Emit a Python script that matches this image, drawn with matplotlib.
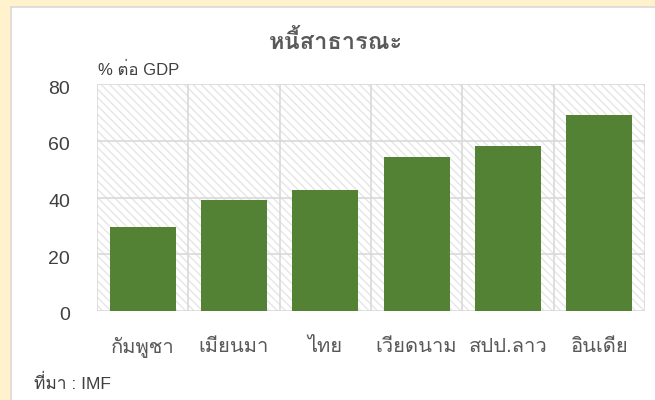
import matplotlib
matplotlib.use("Agg")
import matplotlib.pyplot as plt
from matplotlib.patches import Rectangle
from matplotlib.transforms import ScaledTranslation

categories = ["กัมพูชา", "เมียนมา", "ไทย", "เวียดนาม", "สปป.ลาว", "อินเดีย"]
values = [29.6, 39.1, 42.6, 54.3, 58.1, 69.1]
yticks = [0, 20, 40, 60, 80]
title = "หนี้สาธารณะ"
unit_label = "% ต่อ GDP"
source = "ที่มา : IMF"

families = ["Liberation Sans", "Loma", "DejaVu Sans"]
plt.rcParams["font.family"] = families
plt.rcParams["hatch.linewidth"] = 1.0

TXT = "#595959"
fig = plt.figure(figsize=(6.55, 4.0), dpi=100)
fig.patch.set_facecolor("#FFF2CC")
fig.patches.append(Rectangle((11 / 655, -0.01), 1, 1 - 7 / 400 + 0.01, transform=fig.transFigure,
                             facecolor="white", edgecolor="#D9D9D9", linewidth=1.2, zorder=-5))

ax = fig.add_axes([97 / 655, (400 - 311) / 400, 548 / 655, (311 - 84) / 400])
ax.set_facecolor("white")
ax.add_patch(Rectangle((0, 0), 1, 1, transform=ax.transAxes, facecolor="white",
                       edgecolor="#E6E6E6", linewidth=0, hatch="\\\\\\\\", zorder=0))
x = list(range(len(categories)))
ax.bar(x, values, width=0.72, color="#548235", zorder=3)
ax.set_xlim(-0.5, len(categories) - 0.5)
ax.set_ylim(0, 80)
ax.set_yticks(yticks)
ax.set_yticklabels([str(v) for v in yticks])
ax.set_xticks(x)
ax.set_xticklabels(categories, fontsize=14.5, color=TXT)
ax.tick_params(axis="y", labelsize=14, labelcolor="#404040", length=0, pad=19.5)
ax.tick_params(axis="x", length=0, pad=19)
shift = ScaledTranslation(0, -3 / 100, fig.dpi_scale_trans)
for lbl in ax.get_yticklabels():
    lbl.set_transform(lbl.get_transform() + shift)
for yv in yticks:
    ax.axhline(yv, color="#D9D9D9", linewidth=1.2, zorder=1)
for b in range(len(categories) + 1):
    ax.axvline(b - 0.5, color="#D9D9D9", linewidth=1.2, zorder=1)
for s in ax.spines.values():
    s.set_visible(False)

fig.text(336 / 655, 1 - 42 / 400, title, fontsize=17, fontweight="bold", color=TXT,
         ha="center", va="center")
fig.text(98 / 655, 1 - 70 / 400, unit_label, fontsize=12, color="#404040", ha="left", va="center")
fig.text(34 / 655, 1 - 383 / 400, source, fontsize=12.5, color="#404040", ha="left", va="center")

fig.savefig("out.png", dpi=100, facecolor=fig.get_facecolor())
